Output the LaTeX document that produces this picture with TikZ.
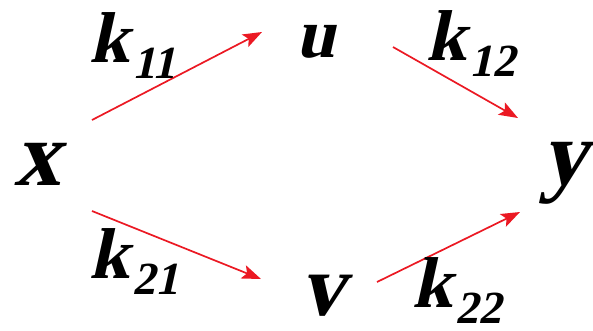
\documentclass[tikz,border=0pt]{standalone}
\usepackage{fontspec}
\setmainfont{Liberation Serif}[FakeSlant=0.22]
\usetikzlibrary{arrows.meta}
\definecolor{arrred}{RGB}{235,25,35}
\newcommand\klab[1]{{\fontsize{72}{72}\selectfont k}\kern3pt\raisebox{-16pt}{\fontsize{46}{46}\selectfont #1}}
\begin{document}
\begin{tikzpicture}[x=1pt,y=-1pt,
  var/.style={inner sep=0pt,anchor=base},
  lab/.style={inner sep=0pt,anchor=base west,font=\bfseries},
  link/.style={draw=arrred,line width=1.7pt,-{Stealth[length=19pt,width=14pt,inset=4pt]}}]
\useasboundingbox (0,0) rectangle (593,330);
\node[var,font=\fontsize{92}{92}\selectfont\bfseries] (x) at (37,185) {x};
\node[var,font=\fontsize{70}{70}\selectfont\bfseries] (u) at (316,57) {u};
\node[var,font=\fontsize{88}{88}\selectfont\bfseries] (v) at (322,315) {v};
\node[var,font=\fontsize{92}{92}\selectfont\bfseries] (y) at (564,184) {y};
\coordinate (a1s) at (92,120);
\coordinate (a1e) at (262,32);
\coordinate (a2s) at (393,47);
\coordinate (a2e) at (518,118);
\coordinate (a3s) at (92,211);
\coordinate (a3e) at (261,279);
\coordinate (a4s) at (377,282);
\coordinate (a4e) at (520,212);
\draw[link] (a1s) -- (a1e);
\draw[link] (a2s) -- (a2e);
\draw[link] (a3s) -- (a3e);
\draw[link] (a4s) -- (a4e);
\node[lab] (k11) at (89,62) {\klab{11}};
\node[lab] (k12) at (426,60) {\klab{12}};
\node[lab] (k21) at (89,278) {\klab{21}};
\node[lab] (k22) at (412,307) {\klab{22}};
\end{tikzpicture}
\end{document}
